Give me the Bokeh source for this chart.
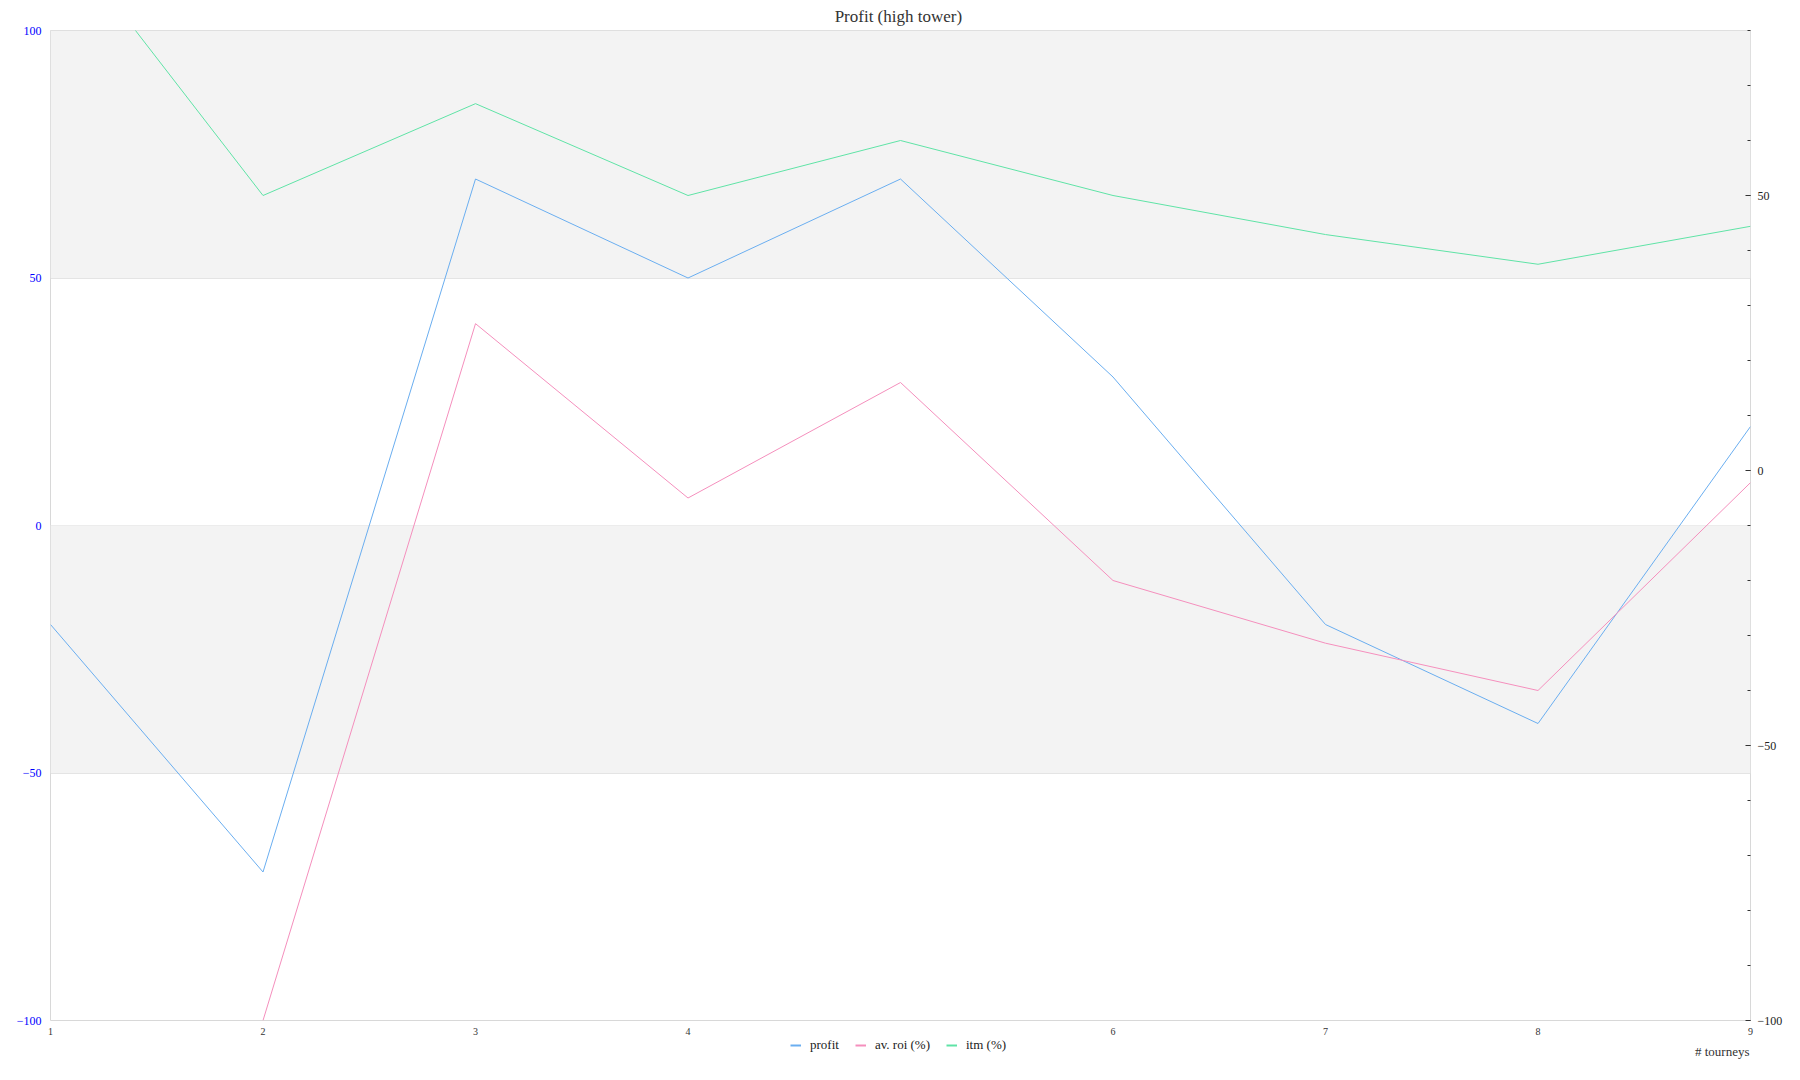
from bokeh.plotting import figure
from bokeh.layouts import column
from bokeh.models import (Range1d, LinearAxis, FixedTicker, SingleIntervalTicker,
                          BoxAnnotation, Label, Legend, LegendItem)
from bokeh.embed import file_html
from bokeh.resources import INLINE

# ---- data ----
tourneys = [1, 2, 3, 4, 5, 6, 7, 8, 9]
profit = [-20, -70, 70, 50, 70, 30, -20, -40, 20]
av_roi = [float("nan"), -100, 26.7, -5, 16, -20, -31.4, -40, -2.2]
itm = [100, 50, 66.7, 50, 60, 50, 42.9, 37.5, 44.4]
left_ticks = [-100, -50, 0, 50, 100]
hidden_x_labels = [5]
series_names = ["profit", "av. roi (%)", "itm (%)"]
title_text = "Profit  (high tower)"
x_label_text = "# tourneys"

C_PROFIT = "#6aaef0"
C_ROI = "#f58fbd"
C_ITM = "#5fe3a6"
SERIF = "Liberation Serif"

p = figure(frame_width=1700, frame_height=990,
           x_range=Range1d(1, 9), y_range=Range1d(-100, 100),
           output_backend="svg", toolbar_location=None,
           min_border_left=50, min_border_right=50,
           min_border_top=30, min_border_bottom=18,
           background_fill_color="white", border_fill_color="white",
           outline_line_color="#d8d8d8")
p.extra_y_ranges = {"right": Range1d(-100, 80)}

# title
p.title.text = title_text
p.title.align = "center"
p.title.text_font = SERIF
p.title.text_font_size = "17px"
p.title.text_font_style = "normal"
p.title.text_color = "#333333"
p.title.standoff = 9

# bands
for lo, hi in [(50, 100), (-50, 0)]:
    p.add_layout(BoxAnnotation(bottom=lo, top=hi, fill_color="#f3f3f3",
                               fill_alpha=1, line_color=None, level="underlay"))

# grid
p.xgrid.visible = False
p.ygrid.ticker = FixedTicker(ticks=[-50, 0, 50])
p.ygrid.grid_line_color = "#e4e4e4"

# left axis
ya = p.yaxis[0]
ya.ticker = FixedTicker(ticks=left_ticks)
ya.axis_line_color = None
ya.major_tick_line_color = None
ya.minor_tick_line_color = None
ya.major_tick_out = 0
ya.minor_tick_out = 0
ya.major_label_text_color = "#0000ff"
ya.major_label_text_font = SERIF
ya.major_label_text_font_size = "12px"
ya.major_label_standoff = 9

# x axis
xa = p.xaxis[0]
xa.ticker = FixedTicker(ticks=tourneys)
xa.major_label_overrides = {t: "" for t in hidden_x_labels}
xa.axis_line_color = None
xa.major_tick_line_color = None
xa.minor_tick_line_color = None
xa.major_tick_out = 0
xa.minor_tick_out = 0
xa.major_label_text_color = "#333333"
xa.major_label_text_font = SERIF
xa.major_label_text_font_size = "10px"
xa.major_label_standoff = 7

# right axis
ra = LinearAxis(y_range_name="right",
                ticker=SingleIntervalTicker(interval=50, num_minor_ticks=5))
ra.axis_line_color = None
ra.major_tick_in = 5
ra.major_tick_out = 0
ra.minor_tick_in = 3
ra.minor_tick_out = 0
ra.major_tick_line_color = "#333333"
ra.minor_tick_line_color = "#333333"
ra.major_label_text_color = "#222222"
ra.major_label_text_font = SERIF
ra.major_label_text_font_size = "12px"
ra.major_label_standoff = 7
p.add_layout(ra, "right")

# series
p.line(tourneys, profit, line_color=C_PROFIT, line_width=1)
p.line(tourneys, av_roi, line_color=C_ROI, line_width=1, y_range_name="right")
p.line(tourneys, itm, line_color=C_ITM, line_width=1, y_range_name="right")

# ---- footer strip: legend and x-axis title ----
f = figure(frame_width=1700, frame_height=42,
           x_range=Range1d(-1, 0), y_range=Range1d(-1, 0),
           x_axis_location=None, y_axis_location=None,
           output_backend="svg", toolbar_location=None,
           min_border_left=50, min_border_right=50,
           min_border_top=0, min_border_bottom=0,
           background_fill_color="white", border_fill_color="white",
           outline_line_color=None)
f.grid.visible = False
# same series, drawn outside this strip's ranges: they only supply legend swatches
lr = [f.line(tourneys, ys, line_color=c, line_width=2)
      for ys, c in ((profit, C_PROFIT), (av_roi, C_ROI), (itm, C_ITM))]
legend = Legend(items=[LegendItem(label=n, renderers=[r]) for n, r in zip(series_names, lr)],
                orientation="horizontal", location=(740, 27),
                glyph_width=11, glyph_height=12, label_height=12,
                label_standoff=9, spacing=16, padding=0, margin=0,
                border_line_color=None, background_fill_alpha=0,
                label_text_font=SERIF, label_text_font_size="13px",
                label_text_color="#222222")
f.add_layout(legend, "center")
f.add_layout(Label(x=1699, y=29, x_units="screen", y_units="screen",
                   text=x_label_text, text_align="right", text_baseline="middle",
                   text_font=SERIF, text_font_size="13px", text_color="#333333"))

layout = column(p, f, spacing=0)
open("out.html", "w").write(file_html(layout, INLINE))
